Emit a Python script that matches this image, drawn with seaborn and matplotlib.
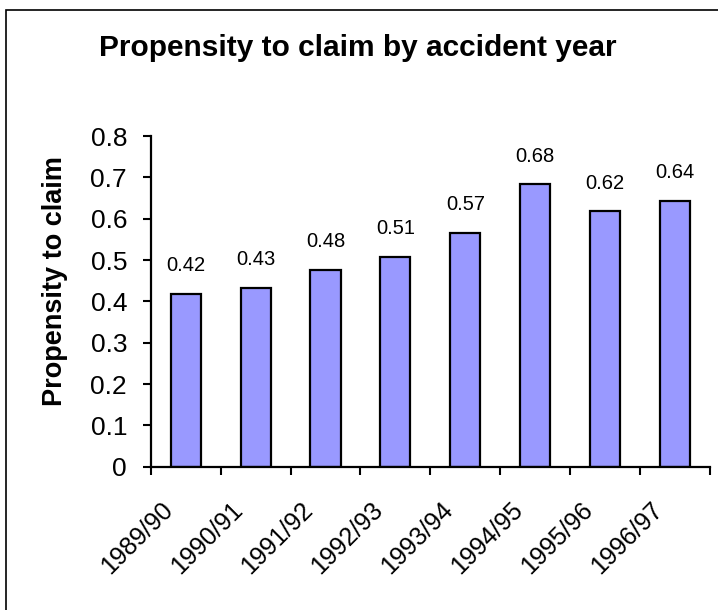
import matplotlib
matplotlib.use("Agg")
import matplotlib.pyplot as plt
from matplotlib.patches import Rectangle
from matplotlib.ticker import FuncFormatter, FixedLocator
from matplotlib.transforms import ScaledTranslation
import seaborn as sns
import pandas as pd

# Accident years and propensity to claim
years = ["1989/90", "1990/91", "1991/92", "1992/93",
         "1993/94", "1994/95", "1995/96", "1996/97"]
propensity = [0.418, 0.432, 0.477, 0.508, 0.566, 0.683, 0.618, 0.644]

sns.set_theme(style="white")
plt.rcParams["font.family"] = ["Liberation Sans", "DejaVu Sans"]
plt.rcParams.update({"text.color": "black", "axes.labelcolor": "black",
                     "xtick.color": "black", "ytick.color": "black"})

df = pd.DataFrame({"year": years, "propensity": propensity})

fig = plt.figure(figsize=(7.18, 6.10), dpi=100)
ax = fig.add_axes([0.2099, 0.2349, 0.9889 - 0.2099, 0.777 - 0.2349])

sns.barplot(data=df, x="year", y="propensity", ax=ax, color="#9999FF",
            saturation=1, width=0.43, edgecolor="black", linewidth=1.6)

# value labels above bars
for i, v in enumerate(propensity):
    ax.text(i, v + 0.055, f"{v:.2f}", ha="center", va="baseline",
            fontsize=14.5, color="black")

ax.set_ylim(0, 0.8)
ax.set_xlim(-0.5, len(years) - 0.5)
ax.set_yticks([i / 10 for i in range(9)])
ax.yaxis.set_major_formatter(FuncFormatter(lambda v, p: f"{v:g}"))
ax.tick_params(axis="y", labelsize=19, length=6, width=1.5, direction="out",
               left=True, pad=11)

# category labels at centres, tick marks at category boundaries
ax.set_xticks(range(len(years)))
ax.set_xticklabels(years, rotation=45, ha="right", rotation_mode="anchor",
                   fontsize=18)
ax.tick_params(axis="x", which="major", length=0, pad=22)
shift = ScaledTranslation(-0.25, 0, fig.dpi_scale_trans)
for lbl in ax.get_xticklabels():
    lbl.set_transform(lbl.get_transform() + shift)
ax.xaxis.set_minor_locator(FixedLocator([i - 0.5 for i in range(len(years) + 1)]))
ax.tick_params(axis="x", which="minor", length=6, width=1.5, direction="out",
               bottom=True)

for s in ["top", "right"]:
    ax.spines[s].set_visible(False)
for s in ["left", "bottom"]:
    ax.spines[s].set_color("black")
    ax.spines[s].set_linewidth(1.6)

ax.set_xlabel("")
ax.set_ylabel("")
fig.text(55 / 718, 1 - 281 / 610, "Propensity to claim", rotation=90,
         ha="center", va="center", fontsize=19.5, fontweight="bold")

fig.text(0.498, 0.921, "Propensity to claim by accident year", ha="center",
         va="center", fontsize=21.5, fontweight="bold")

# chart area frame
fig.patches.append(Rectangle((6 / 718, -0.05), 1.2, 1 - 10 / 610 + 0.05,
                             transform=fig.transFigure, fill=False,
                             edgecolor="black", linewidth=1.2))

fig.savefig("out.png", dpi=100)
